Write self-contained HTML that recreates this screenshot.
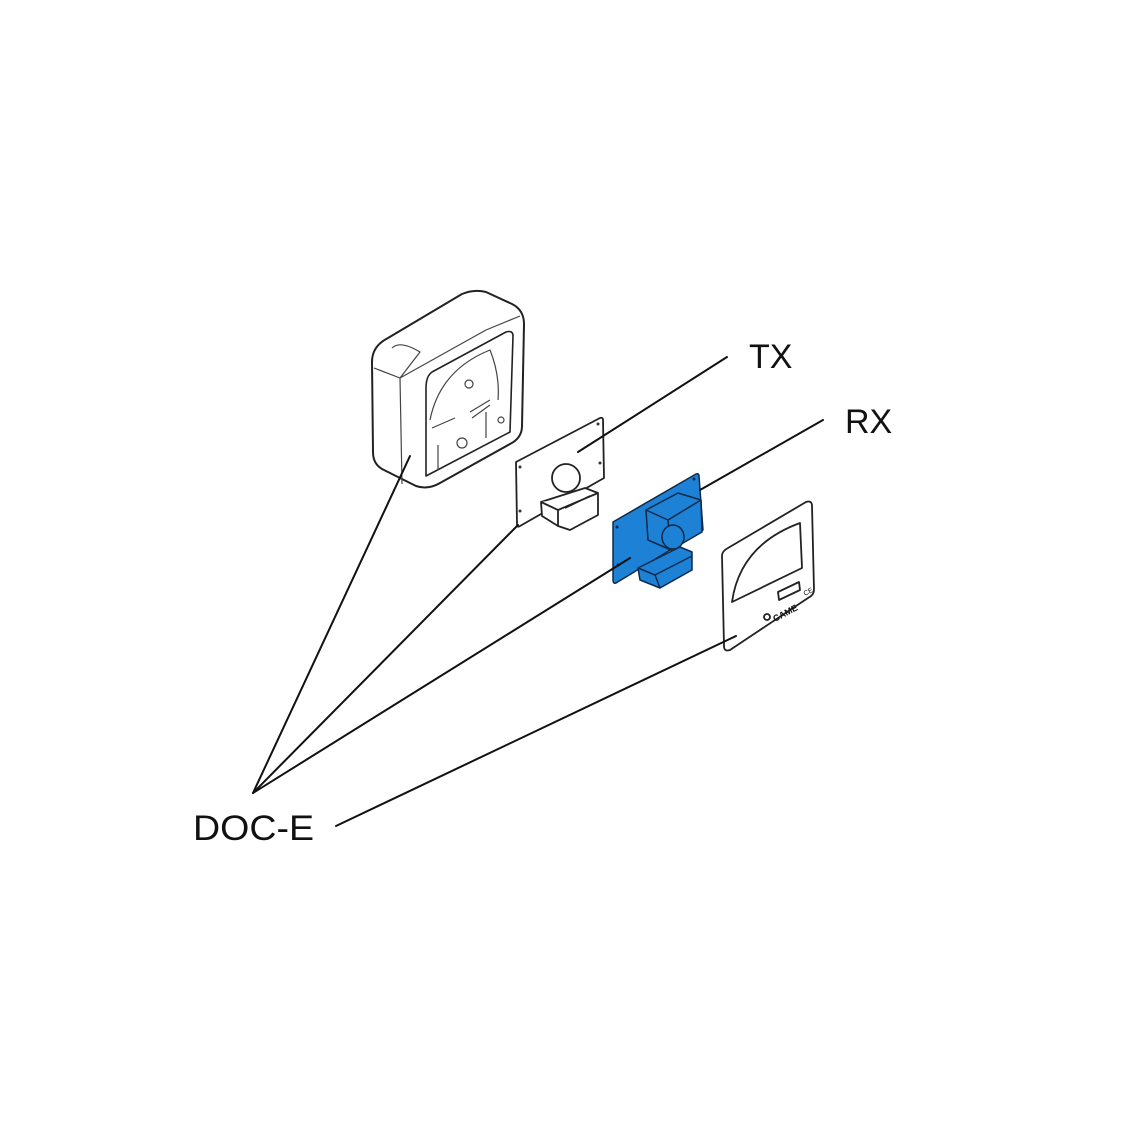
<!DOCTYPE html>
<html><head><style>
html,body{margin:0;padding:0;background:#fff;}
svg{display:block;}
text{font-family:"Liberation Sans",Arial,sans-serif;fill:#111;}
</style></head><body>
<svg width="1140" height="1140" viewBox="0 0 1140 1140" xmlns="http://www.w3.org/2000/svg">
<rect width="1140" height="1140" fill="#fff"/>
<!-- housing -->
<g fill="#fff" stroke="#222" stroke-width="2" stroke-linejoin="round">
<path d="M388,338 L462,294 Q474,289 486,292 L512,304 Q524,310 524,324 L522,426 Q522,438 510,444 L440,483 Q428,490 416,486 L384,470 Q373,465 373,452 L372,362 Q372,346 388,338 Z"/>
</g>
<g fill="none" stroke="#444" stroke-width="1.2" stroke-linejoin="round">
<path d="M374,368 L400,378 L486,330 L520,316"/>
<path d="M400,378 L402,484"/>
<path d="M392,348 Q400,340 420,352 L400,378"/>
<path d="M426,388 L426,476 L510,432 L513,336 Q513,330 506,332 L432,372 Q426,376 426,388 Z" stroke="#222" stroke-width="1.6"/>
<path d="M430,420 Q440,370 490,350 Q500,375 498,400"/>
<path d="M432,428 L455,418 M470,412 L490,400 M472,418 L490,405"/>
<line x1="438" y1="445" x2="438" y2="470"/>
<line x1="486" y1="412" x2="486" y2="438"/>
<circle cx="462" cy="443" r="5"/>
<circle cx="469" cy="384" r="4"/>
<circle cx="501" cy="420" r="3"/>
</g>
<!-- TX plate -->
<g fill="#fff" stroke="#222" stroke-width="1.8" stroke-linejoin="round">
<path d="M516,462 L600,418 Q603,417 603,420 L604,478 L520,526 Q517,528 517,524 Z"/>
<ellipse cx="566" cy="478" rx="14" ry="14"/>
<path d="M541,502 L585,488 L598,493 L598,515 L570,530 L558,526 L542,516 Z"/>
<path d="M541,502 L558,510 L598,493 M558,510 L558,526 M565,508 L590,496"/>
</g>
<g fill="#333"><circle cx="520" cy="467" r="1.5"/><circle cx="598" cy="424" r="1.5"/><circle cx="600" cy="463" r="1.5"/><circle cx="520" cy="511" r="1.5"/></g>
<!-- RX blue -->
<g fill="#1d82d6" stroke="#0d2a4a" stroke-width="1.5" stroke-linejoin="round">
<path d="M613,522 L696,474 Q699,473 699,476 L703,530 L616,583 Q613,584 613,580 Z"/>
<path d="M646,510 L678,493 L701,500 L702,532 L671,550 L648,540 Z"/>
<path d="M646,510 L668,520 L701,500 M668,520 L671,550"/>
<ellipse cx="673" cy="537" rx="11" ry="12"/>
<path d="M638,568 L680,547 L692,552 L692,570 L660,588 L640,580 Z"/>
<path d="M638,568 L655,575 L692,556 M655,575 L660,588"/>
</g>
<g fill="#0d2a4a"><circle cx="617" cy="527" r="1.5"/><circle cx="694" cy="479" r="1.5"/><circle cx="618" cy="565" r="1.5"/></g>
<!-- cover -->
<g fill="#fff" stroke="#222" stroke-width="1.8" stroke-linejoin="round">
<path d="M728,548 L806,502 Q812,500 812,506 L814,590 Q814,595 808,598 L730,650 Q724,652 724,646 L722,556 Q722,551 728,548 Z"/>
<path d="M732,602 Q740,545 800,523 L802,568 Z" fill="none"/>
<path d="M778,592 L799,582 L800,590 L779,600 Z"/>
<circle cx="767" cy="617" r="3"/>
</g>
<text x="775" y="622" font-size="9" transform="rotate(-28 775 622)" font-weight="bold" fill="#333">CAME</text>
<text x="805" y="596" font-size="7" transform="rotate(-28 805 596)" fill="#333">CE</text>
<!-- leader lines (on top) -->
<g fill="none" stroke="#111" stroke-width="2" stroke-linecap="round">
<line x1="253" y1="793" x2="410" y2="456"/>
<line x1="253" y1="793" x2="518" y2="525"/>
<line x1="253" y1="793" x2="630" y2="558"/>
<line x1="336" y1="826" x2="736" y2="636"/>
<line x1="578" y1="452" x2="727" y2="357"/>
<line x1="700" y1="490" x2="823" y2="420"/>
</g>
<!-- labels -->
<text x="749" y="368" font-size="34">TX</text>
<text x="845" y="433" font-size="34">RX</text>
<text x="193" y="840" font-size="35" textLength="121" lengthAdjust="spacingAndGlyphs">DOC-E</text>
</svg>
</body></html>
